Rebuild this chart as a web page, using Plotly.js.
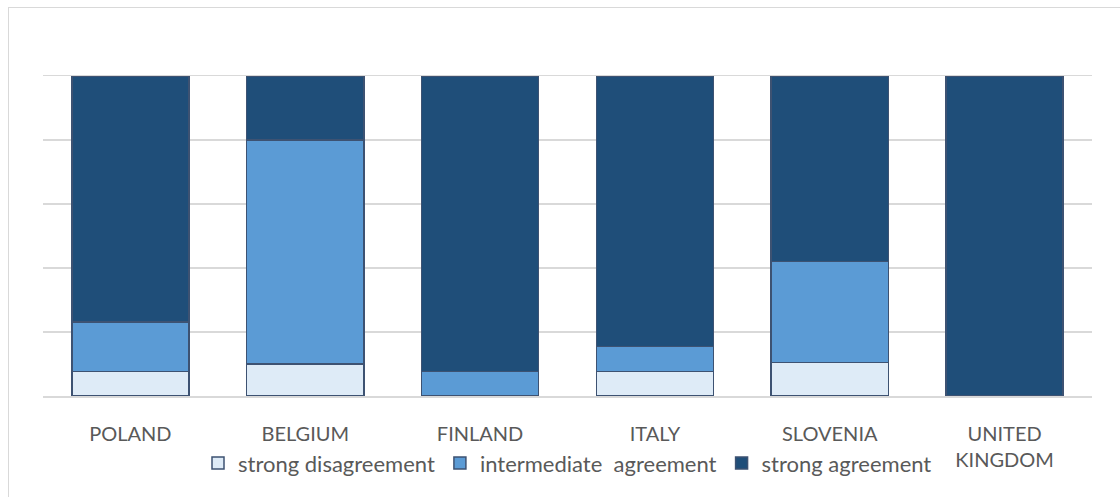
<!DOCTYPE html>
<html>
<head>
<meta charset="utf-8">
<script src="https://cdn.plot.ly/plotly-3.0.1.min.js"></script>
<style>
  body { margin: 0; background: #fff; overflow: hidden; }
  #frame { position: absolute; left: 8px; top: 7px; width: 1200px; height: 600px; border: 1px solid #d9d9d9; }
  #chart { position: absolute; left: 0; top: 0; width: 1120px; height: 497px; }
</style>
</head>
<body>
<div id="frame"></div>
<div id="chart"></div>
<script>
// shares per country (percent of respondents)
var countries = ['POLAND', 'BELGIUM', 'FINLAND', 'ITALY', 'SLOVENIA', 'UNITED<br>KINGDOM'];
var strongDisagreement = [7.7, 10, 0, 7.7, 10.5, 0];
var intermediateAgreement = [15.4, 70, 7.7, 7.7, 31.6, 0];
var strongAgreement = [76.9, 20, 92.3, 84.6, 57.9, 100];

var edge = { color: '#3d5272', width: 1.5 };

var data = [
  { x: countries, y: strongDisagreement, type: 'bar', name: 'strong disagreement',
    marker: { color: '#deebf7', line: edge }, hoverinfo: 'y' },
  { x: countries, y: intermediateAgreement, type: 'bar', name: 'intermediate  agreement',
    marker: { color: '#5b9bd5', line: edge }, hoverinfo: 'y' },
  { x: countries, y: strongAgreement, type: 'bar', name: 'strong agreement',
    marker: { color: '#1f4e79', line: edge }, hoverinfo: 'y' }
];

var layout = {
  width: 1120,
  height: 497,
  margin: { l: 43, r: 28, t: 76, b: 101 },
  barmode: 'stack',
  bargap: 0.33,
  paper_bgcolor: 'rgba(0,0,0,0)',
  plot_bgcolor: 'rgba(0,0,0,0)',
  font: { family: 'Lato, "Open Sans", sans-serif', color: '#595959', size: 20 },
  xaxis: { showline: true, mirror: true, linecolor: '#d9d9d9', linewidth: 1.5, ticks: '',
           ticklabelstandoff: 19, tickfont: { size: 20, color: '#595959' }, fixedrange: true },
  yaxis: { range: [0, 100], dtick: 20, showticklabels: false, gridcolor: '#d9d9d9', gridwidth: 1.5,
           zeroline: false, fixedrange: true },
  showlegend: true,
  legend: { orientation: 'h', x: 0.5, xanchor: 'center', y: -0.21, yanchor: 'middle',
            font: { size: 22, color: '#595959' }, traceorder: 'normal', itemwidth: 30 }
};

Plotly.newPlot('chart', data, layout, { displayModeBar: false, staticPlot: true });
</script>
</body>
</html>
